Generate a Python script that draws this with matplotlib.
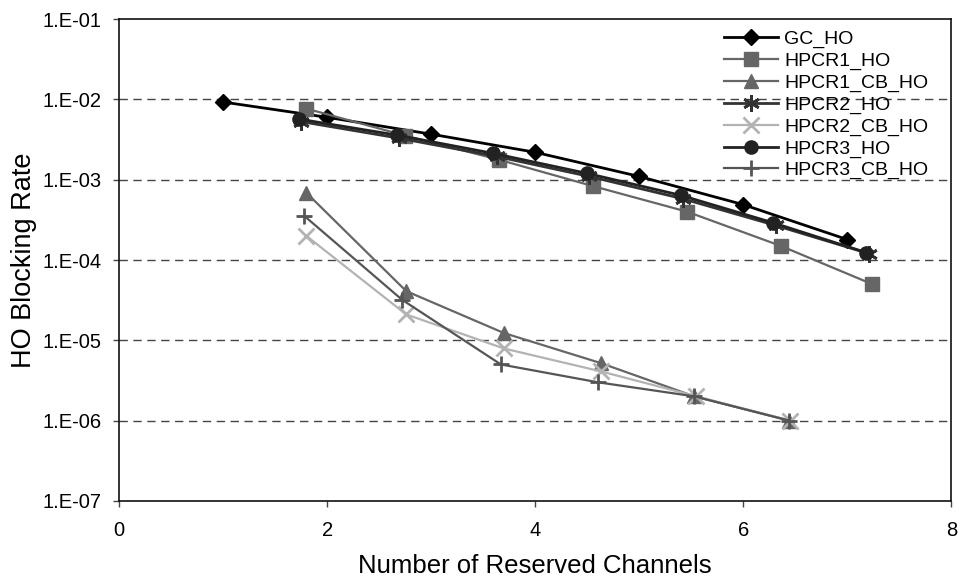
import numpy as np
import matplotlib
matplotlib.use("Agg")
import matplotlib.pyplot as plt
from matplotlib.ticker import FixedLocator, FuncFormatter, NullLocator

plt.rcParams["font.family"] = ["Liberation Sans", "DejaVu Sans"]

# ── données ────────────────────────────────────────────────────────────────
gc_x = [1, 2, 3, 4, 5, 6, 7]
gc_y = [9.3e-3, 6.0e-3, 3.7e-3, 2.2e-3, 1.1e-3, 4.9e-4, 1.8e-4]

hpcr1_x = [1.8, 2.75, 3.65, 4.56, 5.46, 6.36, 7.24]
hpcr1_y = [7.7e-3, 3.55e-3, 1.78e-3, 8.3e-4, 4.0e-4, 1.5e-4, 5.0e-5]

hpcr1_cb_x = [1.8, 2.76, 3.7, 4.63, 5.53, 6.44]
hpcr1_cb_y = [6.9e-4, 4.1e-5, 1.23e-5, 5.2e-6, 2.0e-6, 1.0e-6]

hpcr2_x = [1.75, 2.69, 3.63, 4.52, 5.42, 6.31, 7.21]
hpcr2_y = [5.3e-3, 3.3e-3, 1.95e-3, 1.1e-3, 5.8e-4, 2.7e-4, 1.2e-4]

hpcr2_cb_x = [1.8, 2.76, 3.7, 4.63, 5.55, 6.45]
hpcr2_cb_y = [2.0e-4, 2.1e-5, 7.9e-6, 4.1e-6, 2.0e-6, 1.0e-6]

hpcr3_x = [1.73, 2.67, 3.59, 4.5, 5.4, 6.29, 7.18]
hpcr3_y = [5.7e-3, 3.6e-3, 2.14e-3, 1.2e-3, 6.4e-4, 2.9e-4, 1.24e-4]

hpcr3_cb_x = [1.78, 2.72, 3.67, 4.6, 5.53, 6.44]
hpcr3_cb_y = [3.55e-4, 3.2e-5, 5.0e-6, 3.0e-6, 2.0e-6, 1.0e-6]

x_ticks = [0, 2, 4, 6, 8]
y_ticks = [1e-1, 1e-2, 1e-3, 1e-4, 1e-5, 1e-6, 1e-7]

# (label, x, y, couleur, marqueur, taille, épaisseur)
series = [
    ("GC_HO",       gc_x,       gc_y,       "#000000", "D",       8.5, 2.0),
    ("HPCR1_HO",    hpcr1_x,    hpcr1_y,    "#666666", "s",       9.5, 1.6),
    ("HPCR1_CB_HO", hpcr1_cb_x, hpcr1_cb_y, "#666666", "^",       10,  1.6),
    ("HPCR2_HO",    hpcr2_x,    hpcr2_y,    "#333333", (6, 2, 0), 12,  2.0),
    ("HPCR2_CB_HO", hpcr2_cb_x, hpcr2_cb_y, "#b3b3b3", "x",       11,  1.6),
    ("HPCR3_HO",    hpcr3_x,    hpcr3_y,    "#222222", "o",       9.5, 2.0),
    ("HPCR3_CB_HO", hpcr3_cb_x, hpcr3_cb_y, "#555555", "+",       12,  1.6),
]

fig = plt.figure(figsize=(9.6, 5.83), dpi=100, facecolor="white")
ax = fig.add_axes([0.124, 0.141, 0.867, 0.826])

for label, xs, ys, col, mk, ms, lw in series:
    ax.plot(xs, ys, color=col, marker=mk, markersize=ms, linewidth=lw,
            markeredgewidth=2 if mk in ("x", "+", (6, 2, 0)) else 1,
            markerfacecolor=col, markeredgecolor=col, label=label, zorder=3)

ax.set_yscale("log")
ax.set_xlim(0, 8)
ax.set_ylim(1e-7, 1e-1)

# grille pointillée uniquement sur les décades intérieures
for v in y_ticks[1:-1]:
    ax.axhline(v, color="#444444", linewidth=1.0, dashes=(6, 4), zorder=1)

ax.xaxis.set_major_locator(FixedLocator(x_ticks))
ax.yaxis.set_major_locator(FixedLocator(y_ticks))
ax.yaxis.set_minor_locator(NullLocator())
ax.yaxis.set_major_formatter(FuncFormatter(
    lambda v, _: f"1.E{int(round(np.log10(v))):03d}"))

ax.tick_params(axis="both", direction="out", length=4.5, width=1,
               labelsize=14.5, color="#444444")
ax.tick_params(axis="y", pad=8)
ax.tick_params(axis="x", pad=10)

for sp in ax.spines.values():
    sp.set_linewidth(1.2)
    sp.set_color("#111111")

ax.set_xlabel("Number of Reserved Channels", fontsize=18.5, labelpad=10)
ax.set_ylabel("HO Blocking Rate", fontsize=19.5, labelpad=4)

ax.legend(loc="upper left", bbox_to_anchor=(0.754, 0.948),
          bbox_transform=fig.transFigure, frameon=False, fontsize=14,
          borderpad=0, borderaxespad=0, labelspacing=0.21,
          handlelength=2.8, handletextpad=0.3)

fig.savefig("out.png", dpi=100, facecolor="white")
